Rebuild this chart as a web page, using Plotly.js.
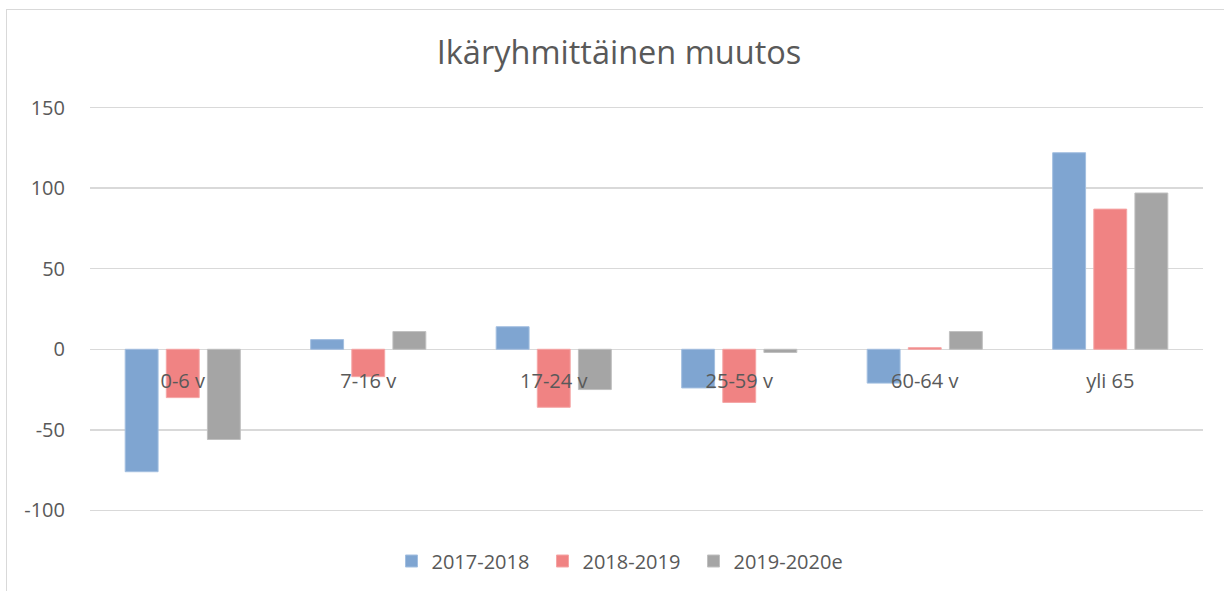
<!DOCTYPE html>
<html>
<head>
<meta charset="utf-8">
<script src="https://cdn.plot.ly/plotly-3.0.1.min.js"></script>
<style>
  html, body { margin:0; padding:0; width:1224px; height:591px; overflow:hidden; background:#fff; }
  #frame { position:absolute; left:6px; top:9px; width:1240px; height:620px; border:1px solid #d9d9d9; box-sizing:border-box; }
  #chart { position:absolute; left:0; top:0; width:1224px; height:591px; }
</style>
</head>
<body>
<div id="frame"></div>
<div id="chart"></div>
<script>
const categories = ["0-6 v", "7-16 v", "17-24 v", "25-59 v", "60-64 v", "yli 65"];
const seriesNames = ["2017-2018", "2018-2019", "2019-2020e"];
const values2017_2018 = [-76, 6, 14, -24, -21, 122];
const values2018_2019 = [-30, -17, -36, -33, 1, 87];
const values2019_2020e = [-56, 11, -25, -2, 11, 97];
const yTicks = [-100, -50, 0, 50, 100, 150];

const colors = ["#7fa5d1", "#f08383", "#a5a5a5"];
const edgeColors = ["#a3bfe0", "#f5a5a5", "#c0c0c0"];
const allValues = [values2017_2018, values2018_2019, values2019_2020e];

const textColor = "#595959";
const font = "Open Sans, Noto Sans, sans-serif";

const traces = allValues.map((vals, i) => ({
  type: "bar",
  name: seriesNames[i],
  x: categories,
  y: vals,
  marker: { color: colors[i], line: { color: edgeColors[i], width: 1 } },
  hoverinfo: "skip"
}));

const layout = {
  width: 1224,
  height: 591,
  margin: { l: 90, r: 21, t: 106.4, b: 79.4, autoexpand: false },
  paper_bgcolor: "rgba(0,0,0,0)",
  plot_bgcolor: "rgba(0,0,0,0)",
  barmode: "group",
  bargap: 0.335,
  bargroupgap: 0.2,
  font: { family: font, color: textColor, size: 20 },
  title: {
    text: "Ikäryhmittäinen muutos",
    font: { family: font, size: 32.5, color: textColor },
    xref: "container",
    x: 619 / 1224, xanchor: "center",
    y: 1 - 53 / 591, yanchor: "middle", yref: "container"
  },
  xaxis: {
    type: "category",
    showgrid: false,
    showline: false,
    zeroline: false,
    anchor: "free",
    position: 101 / 252,
    ticks: "outside",
    ticklen: 14,
    tickcolor: "rgba(0,0,0,0)",
    tickfont: { family: font, size: 20, color: textColor },
    fixedrange: true
  },
  yaxis: {
    range: [-101, 151],
    tickvals: yTicks,
    ticktext: yTicks.map(String),
    showgrid: true,
    gridcolor: "#d9d9d9",
    gridwidth: 1.5,
    zeroline: true,
    zerolinecolor: "#d9d9d9",
    zerolinewidth: 1.5,
    showline: false,
    ticks: "outside",
    ticklen: 20,
    tickcolor: "rgba(0,0,0,0)",
    tickfont: { family: font, size: 20, color: textColor },
    fixedrange: true
  },
  showlegend: true,
  legend: {
    orientation: "h",
    xref: "container",
    x: 618 / 1224, xanchor: "center",
    yref: "container",
    y: 1 - 561 / 591, yanchor: "middle",
    entrywidth: 106,
    entrywidthmode: "pixels",
    font: { family: font, size: 20, color: textColor },
    traceorder: "normal",
    itemclick: false, itemdoubleclick: false
  }
};

Plotly.newPlot("chart", traces, layout, { staticPlot: true, displayModeBar: false });
</script>
</body>
</html>
